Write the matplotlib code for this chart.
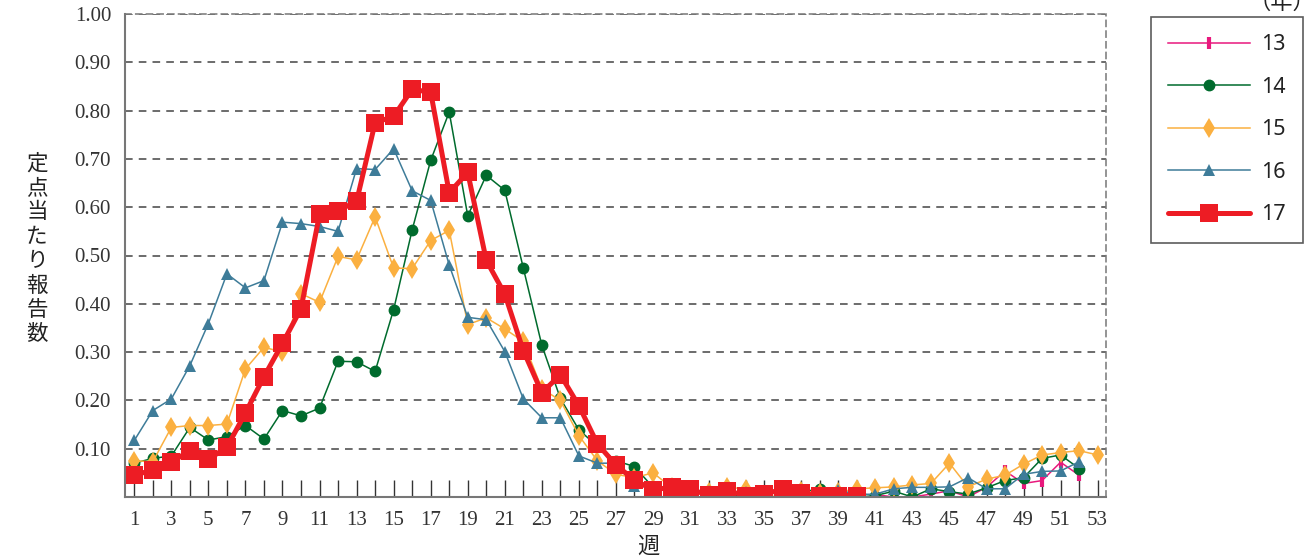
import numpy as np
import matplotlib.pyplot as plt

# 週ごとの定点当たり報告数（読み取り値）
weeks_13 = list(range(41, 53))
y13 = [0.005, 0.0, 0.0, 0.006, 0.013, 0.0, 0.02, 0.054, 0.028, 0.034, 0.072, 0.045]

weeks_14 = list(range(1, 53))
y14 = [0.07, 0.08, 0.085, 0.144, 0.118, 0.125, 0.148, 0.12, 0.179, 0.168,
       0.184, 0.281, 0.28, 0.26, 0.388, 0.553, 0.697, 0.797, 0.582, 0.666,
       0.635, 0.474, 0.314, 0.204, 0.139, 0.105, 0.075, 0.063, 0.02, 0.015,
       0.012, 0.008, 0.0, 0.005, 0.008, 0.01, 0.01, 0.017, 0.008, 0.007,
       0.003, 0.012, 0.0, 0.017, 0.011, 0.006, 0.019, 0.034, 0.04, 0.08,
       0.087, 0.059]

weeks_15 = list(range(1, 54))
y15 = [0.075, 0.073, 0.144, 0.148, 0.148, 0.151, 0.265, 0.31, 0.3, 0.421,
       0.403, 0.498, 0.491, 0.58, 0.474, 0.473, 0.531, 0.552, 0.357, 0.371,
       0.348, 0.322, 0.224, 0.2, 0.127, 0.075, 0.047, 0.04, 0.05, 0.02,
       0.003, 0.01, 0.02, 0.017, 0.0, 0.003, 0.012, 0.008, 0.01, 0.017,
       0.019, 0.021, 0.025, 0.028, 0.07, 0.021, 0.037, 0.045, 0.068, 0.087,
       0.092, 0.096, 0.087]

weeks_16 = list(range(1, 53))
y16 = [0.117, 0.179, 0.203, 0.272, 0.359, 0.462, 0.433, 0.448, 0.569, 0.566,
       0.56, 0.55, 0.68, 0.678, 0.721, 0.634, 0.614, 0.48, 0.372, 0.367,
       0.301, 0.203, 0.164, 0.164, 0.085, 0.07, 0.07, 0.023, 0.02, 0.013,
       0.01, 0.013, 0.01, 0.01, 0.01, 0.015, 0.01, 0.005, 0.015, 0.005,
       0.006, 0.017, 0.02, 0.02, 0.021, 0.04, 0.017, 0.017, 0.047, 0.053,
       0.054, 0.073]

weeks_17 = list(range(1, 41))
y17 = [0.045, 0.056, 0.072, 0.096, 0.078, 0.103, 0.174, 0.249, 0.318, 0.39,
       0.585, 0.593, 0.612, 0.775, 0.788, 0.844, 0.838, 0.63, 0.672, 0.49,
       0.42, 0.303, 0.216, 0.253, 0.189, 0.11, 0.066, 0.035, 0.015, 0.02,
       0.016, 0.004, 0.013, 0.003, 0.006, 0.016, 0.009, 0.003, 0.003, 0.003]

fig = plt.figure(figsize=(13.07, 5.57), dpi=100)
ax = fig.add_axes([125 / 1307, 1 - 497 / 557, 981 / 1307, 483 / 557])

ax.plot(weeks_13, y13, color='#E8197D', lw=1.1, marker='|', ms=9, mew=3, label='13')
ax.plot(weeks_14, y14, color='#006B2D', lw=1.1, marker='o', ms=7.5, label='14')
ax.plot(weeks_15, y15, color='#FBB040', lw=1.1, marker='d', ms=10, mew=0, label='15')
ax.plot(weeks_16, y16, color='#3E7C99', lw=1.1, marker='^', ms=9, mew=0, label='16')
ax.plot(weeks_17, y17, color='#ED1C24', lw=3.6, marker='s', ms=13, mew=0, label='17',
        solid_capstyle='round')

ax.set_xlim(0.5, 53.45)
ax.set_ylim(0, 1.0)

# 軸・目盛
ax.set_yticks(np.arange(0.1, 1.01, 0.1))
ax.set_yticklabels([f'{v:.2f}' for v in np.arange(0.1, 1.01, 0.1)])
ax.set_xticks(range(1, 54, 2))
ax.set_xticks(range(1, 54), minor=True)
ax.tick_params(axis='y', length=0, pad=10)
ax.tick_params(axis='x', which='both', direction='in', length=12, width=1, color='#333333', pad=10)
for lab in ax.get_xticklabels() + ax.get_yticklabels():
    lab.set_fontfamily('Liberation Serif')
    lab.set_fontsize(15)
    lab.set_color('#333333')

ax.grid(axis='y', linestyle=(0, (5, 4)), color='#444444', lw=1.1)
ax.set_axisbelow(True)
for s in ['left', 'bottom']:
    ax.spines[s].set_color('#777777')
    ax.spines[s].set_linewidth(1.5)
for s in ['top', 'right']:
    ax.spines[s].set_color('#777777')
    ax.spines[s].set_linestyle((0, (4, 3)))
    ax.spines[s].set_linewidth(1.1)

cjk = ['Noto Sans CJK JP', 'DejaVu Sans']
fig.text(37 / 1307, 1 - 249 / 557, '\n'.join('定点当たり報告数'), ha='center', va='center',
         fontsize=15.5, family=cjk, linespacing=1.14, color='#222222')
fig.text(648 / 1307, 1 - 546 / 557, '週', ha='center', va='center', fontsize=16,
         family=cjk, color='#222222')
fig.text(1282 / 1307, 0.995, '（年）', ha='center', va='center', fontsize=16,
         family=cjk, color='#222222')

leg = ax.legend(loc='upper left', bbox_to_anchor=(1151 / 1307, 1 - 17 / 557),
                bbox_transform=fig.transFigure, prop={'family': 'Noto Sans', 'size': 15.5},
                frameon=True, fancybox=False, edgecolor='#333333', borderpad=0.8,
                labelspacing=1.0, handlelength=3.8, handletextpad=0.5,
                borderaxespad=0)
leg.get_frame().set_linewidth(1.2)
for t in leg.get_texts():
    t.set_color('#222222')

fig.savefig('out.png', dpi=100)
